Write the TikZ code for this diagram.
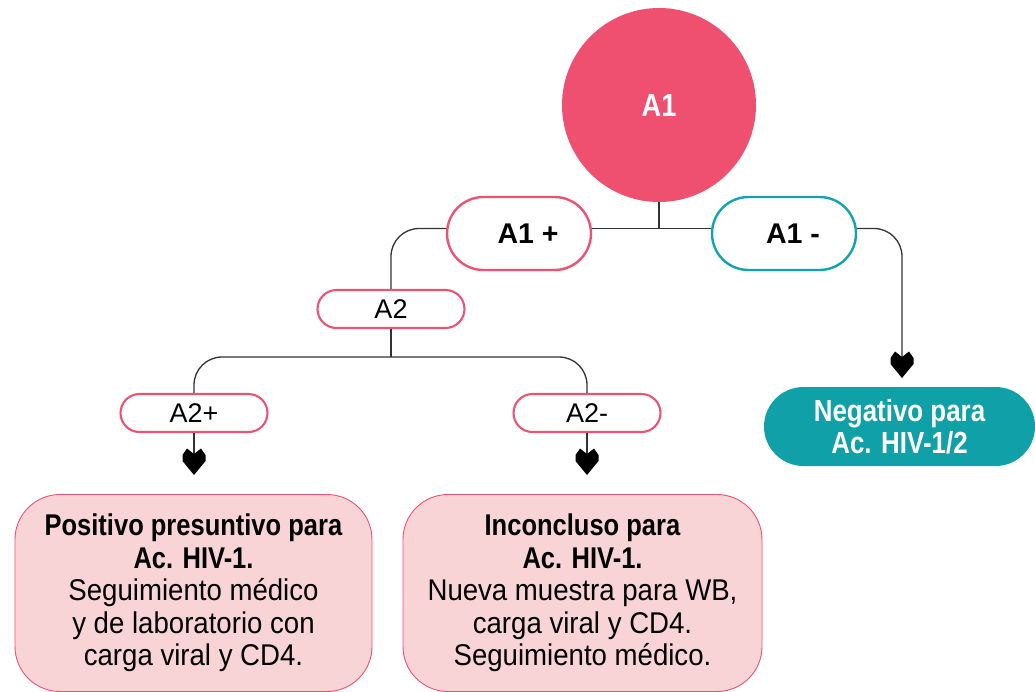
\documentclass[tikz,border=0pt]{standalone}
\usepackage{fontspec}
\setmainfont{Liberation Sans}[FakeStretch=0.92, BoldFeatures={FakeStretch=0.85}]
\newfontfamily\widefont{Liberation Sans}
\usetikzlibrary{shapes.misc}
\definecolor{circfill}{HTML}{EF5070}
\definecolor{pinkline}{HTML}{EE5272}
\definecolor{tealline}{HTML}{12A3AE}
\definecolor{tealfill}{HTML}{0FA0A8}
\definecolor{lightpink}{HTML}{F9D4D6}
\definecolor{conn}{HTML}{333333}
\tikzset{
  pillbig/.style={rounded rectangle, draw, line width=2.4pt, fill=white,
    minimum width=144pt, minimum height=73pt, inner sep=0pt,
    font=\widefont\fontsize{28.5}{34}\selectfont\bfseries},
  pillsmall/.style={rounded rectangle, draw=pinkline, line width=2.1pt, fill=white,
    minimum width=147pt, minimum height=38pt, inner sep=0pt,
    font=\widefont\fontsize{27}{32}\selectfont},
  resbox/.style={rectangle, rounded corners=45pt, draw=pinkline, line width=0.9pt,
    fill=lightpink, minimum width=357pt, minimum height=197pt, inner sep=0pt,
    align=center, font=\fontsize{30}{32.5}\selectfont},
  connector/.style={draw=conn, line width=1.3pt},
  rconn/.style={connector, rounded corners=28pt},
  hd/.pic={\fill[black] (0,0) -- (11.5pt,14pt) -- (11.5pt,20pt) -- (7pt,26.5pt) -- (0,21pt)
      -- (-7pt,26.5pt) -- (-11.5pt,20pt) -- (-11.5pt,14pt) -- cycle;}
}
\begin{document}
\begin{tikzpicture}[x=1pt,y=-1pt]
\useasboundingbox (0,0) rectangle (1035,691);
% nodes
\node[circle, fill=circfill, minimum size=194pt, inner sep=0pt, text=white,
  font=\fontsize{32}{36}\selectfont\bfseries] (c) at (659,105) {A1};
\node[pillbig, draw=pinkline] (a1p) at (519,233.5) {\hspace*{18pt}A1 +};
\node[pillbig, draw=tealline] (a1m) at (784,233.5) {\hspace*{18pt}A1 -};
\node[pillsmall] (a2) at (391,309) {A2};
\node[pillsmall] (a2p) at (194,413) {A2+};
\node[pillsmall] (a2m) at (587,413) {A2-};
\node[rounded rectangle, fill=tealfill, minimum width=271pt, minimum height=79pt,
  inner sep=0pt, text=white, align=center,
  font=\fontsize{30.5}{32}\selectfont\bfseries] (neg) at (899.5,426.5)
  {Negativo para\\Ac. HIV-1/2};
\node[resbox] (pos) at (193.5,593)
  {\textbf{Positivo presuntivo para}\\\textbf{Ac. HIV-1.}\\Seguimiento médico\\y de laboratorio con\\carga viral y CD4.};
\node[resbox, minimum width=359pt] (inc) at (582.5,593)
  {\textbf{Inconcluso para}\\\textbf{Ac. HIV-1.}\\Nueva muestra para WB,\\carga viral y CD4.\\Seguimiento médico.};
% coordinates
\coordinate (j1) at (659,229);
\coordinate (j2) at (391,357);
\coordinate (t1) at (194,475);
\coordinate (t2) at (587,475);
\coordinate (t3) at (902,378);
% connectors
\draw[connector] (c.south) -- (j1);
\draw[connector] ([yshift=5pt]a1p.east) -- ([yshift=5pt]a1m.west);
\draw[rconn] ([yshift=5pt]a1p.west) -| (a2.north);
\draw[connector] (a2.south) -- (j2);
\draw[rconn] (j2) -| (a2p.north);
\draw[rconn] (j2) -| (a2m.north);
\draw[connector] (a2p.south) -- ([yshift=21pt]t1);
\draw[connector] (a2m.south) -- ([yshift=21pt]t2);
\draw[rconn] ([yshift=5pt]a1m.east) -| ([yshift=21pt]t3);
\pic at (t1) {hd};
\pic at (t2) {hd};
\pic at (t3) {hd};
\end{tikzpicture}
\end{document}
